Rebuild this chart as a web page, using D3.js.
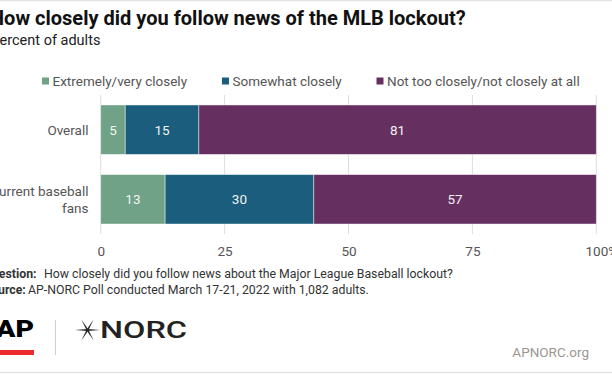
<!DOCTYPE html>
<html><head><meta charset="utf-8">
<script src="https://cdn.jsdelivr.net/npm/d3@7"></script>
<style>
html,body{margin:0;padding:0;background:#fff;overflow:hidden;}
svg{display:block;font-family:Roboto,"Noto Sans",sans-serif;}
</style></head>
<body>
<svg id="c" width="612" height="374"></svg>
<script>
const categories = ["Overall", "Current baseball fans"];
const seriesNames = ["Extremely/very closely", "Somewhat closely", "Not too closely/not closely at all"];
const extremely = [5, 13];
const somewhat = [15, 30];
const notToo = [81, 57];
const ticks = [0, 25, 50, 75, 100];
const colors = ["#6fa287", "#1a5d7c", "#652f60"];

const svg = d3.select("#c");
const W = 612, H = 374;

// frame lines
svg.append("line").attr("x1",0).attr("x2",W).attr("y1",0.5).attr("y2",0.5).attr("stroke","#e2e2e2").attr("stroke-width",1.5);
svg.append("line").attr("x1",0).attr("x2",W).attr("y1",372.5).attr("y2",372.5).attr("stroke","#e2e2e2").attr("stroke-width",1.5);

const LX = -10;
svg.append("text").attr("x",LX).attr("y",25).attr("font-size",20).attr("font-weight",700).attr("fill","#111")
  .text("How closely did you follow news of the MLB lockout?");
svg.append("text").attr("x",LX+0.5).attr("y",45).attr("font-size",14.5).attr("fill","#222")
  .text("Percent of adults");

// legend
const FS = 13.5;
const legX = [42, 222, 376.5];
seriesNames.forEach((n,i)=>{
  svg.append("rect").attr("x",legX[i]).attr("y",77.5).attr("width",7).attr("height",7).attr("fill",colors[i]);
  svg.append("text").attr("x",legX[i]+10.5).attr("y",85.5).attr("font-size",FS).attr("fill","#555").text(n);
});

const x = d3.scaleLinear().domain([0,1]).range([100.7, 596.3]);
const y = d3.scaleBand().domain(categories).range([95, 234]).paddingInner(0.29).paddingOuter(0.1435);

// gridlines
svg.append("g").selectAll("line").data(ticks).join("line")
  .attr("x1",d=>x(d/100)).attr("x2",d=>x(d/100)).attr("y1",95).attr("y2",234)
  .attr("stroke","#dedede").attr("stroke-width",1);

// axis labels
const axisG = svg.append("g").attr("transform","translate(0,256)");
const xAxis = d3.axisBottom(x).tickValues(ticks.map(t=>t/100)).tickSize(0).tickPadding(0).tickFormat(d=>Math.round(d*100));
axisG.call(xAxis);
axisG.select(".domain").remove();
axisG.selectAll("text").attr("font-size",FS).attr("fill","#555").attr("font-family","Roboto,sans-serif").attr("dy",0).attr("y",0);
axisG.selectAll(".tick").filter(d=>d===1).select("text")
  .attr("text-anchor","start").attr("x",-11.3)
  .text("100").append("tspan").text("%");

// stacked data (normalized to 100%)
const table = categories.map((c,i)=>({cat:c, s0:extremely[i], s1:somewhat[i], s2:notToo[i]}));
const stack = d3.stack().keys(["s0","s1","s2"]).offset(d3.stackOffsetExpand);
const layers = stack(table);
const segs = [];
layers.forEach((layer,j)=>layer.forEach(d=>segs.push({cat:d.data.cat, j, x0:d[0], x1:d[1], v:d.data[layer.key]})));

svg.append("g").selectAll("rect").data(segs).join("rect")
  .attr("x",d=>x(d.x0)).attr("width",d=>x(d.x1)-x(d.x0))
  .attr("y",d=>y(d.cat)).attr("height",y.bandwidth())
  .attr("fill",d=>colors[d.j]).attr("stroke","#ffffff").attr("stroke-opacity",0.55).attr("stroke-width",0.8);
svg.append("g").selectAll("text").data(segs).join("text")
  .attr("x",d=>(x(d.x0)+x(d.x1))/2).attr("y",d=>y(d.cat)+y.bandwidth()/2+5)
  .attr("text-anchor","middle").attr("font-size",FS).attr("fill","#f2f2f2").text(d=>d.v);

// category labels
const catLines = {"Overall":["Overall"], "Current baseball fans":["Current baseball","fans"]};
categories.forEach(c=>{
  const lines = catLines[c];
  const cy = y(c)+y.bandwidth()/2;
  const t = svg.append("text").attr("text-anchor","end").attr("font-size",FS).attr("fill","#555");
  lines.forEach((l,k)=>{
    t.append("tspan").attr("x",88.5).attr("y",cy+5+(k-(lines.length-1)/2)*16.5).text(l);
  });
});

// footer
const FF = 12.3;
const q = svg.append("text").attr("x",-16.5).attr("y",278).attr("font-size",FF).attr("fill","#333");
q.append("tspan").attr("font-weight",700).text("Question:");
q.append("tspan").attr("x",44).text("How closely did you follow news about the Major League Baseball lockout?");
const s = svg.append("text").attr("x",-16.5).attr("y",293.5).attr("font-size",FF).attr("fill","#333");
s.append("tspan").attr("font-weight",700).text("Source:");
s.append("tspan").attr("x",28).text("AP-NORC Poll conducted March 17-21, 2022 with 1,082 adults.");

// logos
svg.append("text").attr("x",34).attr("y",337).attr("text-anchor","end").attr("font-size",23).attr("font-weight",900)
  .attr("textLength",38).attr("lengthAdjust","spacingAndGlyphs").attr("fill","#000").text("AP");
svg.append("rect").attr("x",0).attr("y",350).attr("width",34).attr("height",5).attr("fill","#ec2b2f");
svg.append("line").attr("x1",55.5).attr("x2",55.5).attr("y1",320).attr("y2",355).attr("stroke","#cfcfcf").attr("stroke-width",1);
const star = svg.append("g").attr("transform","translate(87.5,330)");
[0,60,120].forEach(a=>{
  star.append("path").attr("d","M-12.5,0 L0,-0.9 L12.5,0 L0,0.9 Z").attr("fill","#222").attr("transform",`rotate(${a})`);
});
svg.append("text").attr("x",100).attr("y",338).attr("font-size",24).attr("font-weight",500).attr("fill","#222")
  .attr("textLength",87).attr("lengthAdjust","spacingAndGlyphs").text("NORC");
svg.append("text").attr("x",589).attr("y",357).attr("text-anchor","end").attr("font-size",13.5).attr("fill","#9b9691")
  .text("APNORC.org");
</script>
</body></html>
